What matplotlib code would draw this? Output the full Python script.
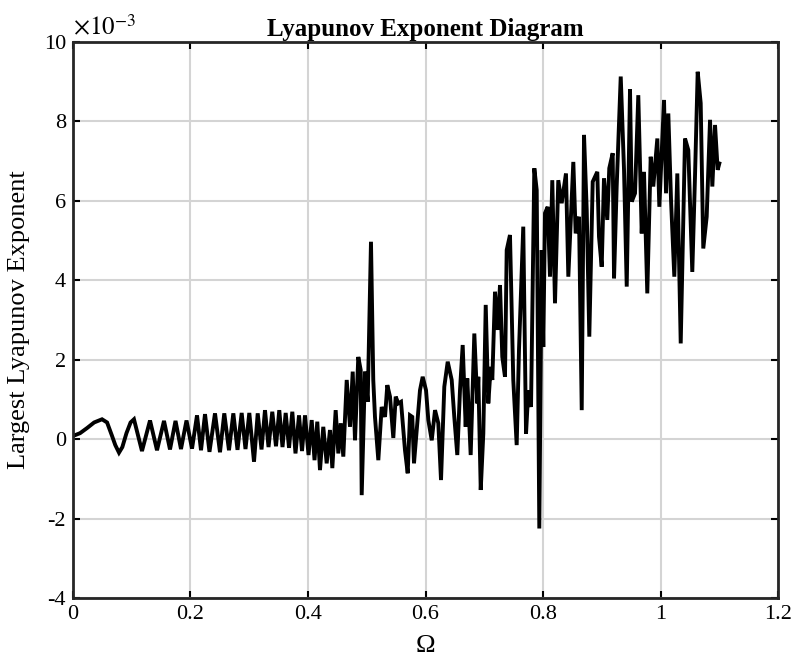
import matplotlib
matplotlib.use("Agg")
import matplotlib.pyplot as plt

# Omega values and largest Lyapunov exponent (in units of 1e-3)
omega = [
    0.0000, 0.0120, 0.0240, 0.0360, 0.0494, 0.0580, 0.0660, 0.0720, 0.0783, 0.0840,
    0.0910, 0.0980, 0.1038, 0.1106, 0.1174, 0.1311,
    0.1430, 0.1549, 0.1651, 0.1745, 0.1838, 0.1932, 0.2026, 0.2111, 0.2179, 0.2247,
    0.2323, 0.2417, 0.2502, 0.2575, 0.2655, 0.2729, 0.2800, 0.2871, 0.2936, 0.3001,
    0.3081, 0.3144, 0.3209, 0.3268, 0.3328, 0.3392, 0.3455, 0.3511, 0.3566, 0.3620,
    0.3677, 0.3733, 0.3787, 0.3847, 0.3898, 0.3949, 0.4009, 0.4063, 0.4111, 0.4158,
    0.4204, 0.4260, 0.4318, 0.4374, 0.4414, 0.4471, 0.4516, 0.4557, 0.4601, 0.4659,
    0.4715, 0.4761, 0.4800, 0.4856, 0.4897, 0.4914, 0.4970, 0.5016, 0.5072, 0.5111,
    0.5140, 0.5197, 0.5254, 0.5311, 0.5350, 0.5396, 0.5452, 0.5493, 0.5537, 0.5583,
    0.5651, 0.5697, 0.5736, 0.5775, 0.5804, 0.5850, 0.5906, 0.5952, 0.6009, 0.6048,
    0.6106, 0.6162, 0.6218, 0.6264, 0.6320, 0.6378, 0.6446, 0.6490, 0.6541, 0.6587,
    0.6633, 0.6684, 0.6711, 0.6769, 0.6797, 0.6831, 0.6882, 0.6899, 0.6940, 0.6984,
    0.7025, 0.7069, 0.7110, 0.7137, 0.7183, 0.7229, 0.7268, 0.7307, 0.7353, 0.7382,
    0.7438, 0.7494, 0.7552, 0.7591, 0.7664, 0.7711, 0.7750, 0.7796, 0.7852, 0.7893,
    0.7937, 0.7978, 0.8005, 0.8034, 0.8080, 0.8119, 0.8158, 0.8204, 0.8260, 0.8318,
    0.8391, 0.8431, 0.8516, 0.8556, 0.8613, 0.8659, 0.8698, 0.8744, 0.8788, 0.8846,
    0.8924, 0.8953, 0.8999, 0.9038, 0.9094, 0.9128, 0.9186, 0.9209, 0.9254, 0.9323,
    0.9379, 0.9425, 0.9481, 0.9510, 0.9566, 0.9622, 0.9680, 0.9719, 0.9775, 0.9833,
    0.9877, 0.9946, 0.9980, 1.0060, 1.0094, 1.0133, 1.0179, 1.0235, 1.0286, 1.0344,
    1.0417, 1.0473, 1.0541, 1.0587, 1.0633, 1.0684, 1.0728, 1.0786, 1.0843, 1.0882,
    1.0928, 1.0973, 1.1001,
]
lyap = [
    0.08, 0.15, 0.28, 0.42, 0.50, 0.42, 0.10, -0.15, -0.34, -0.20,
    0.15, 0.42, 0.50, 0.10, -0.30, 0.47,
    -0.28, 0.46, -0.26, 0.46, -0.25, 0.47, -0.24, 0.60, -0.28, 0.63,
    -0.32, 0.65, -0.33, 0.65, -0.28, 0.65, -0.27, 0.66, -0.25, 0.66,
    -0.57, 0.65, -0.26, 0.73, -0.20, 0.69, -0.18, 0.73, -0.20, 0.66,
    -0.22, 0.69, -0.36, 0.60, -0.30, 0.60, -0.40, 0.48, -0.53, 0.44,
    -0.78, 0.31, -0.61, 0.23, -0.73, 0.73, -0.36, 0.40, -0.44, 1.49,
    0.31, 1.70, -0.03, 2.07, 1.74, -1.41, 1.70, 0.94, 4.97, 1.49,
    0.56, -0.53, 0.81, 0.56, 1.36, 1.07, 0.03, 1.07, 0.90, 0.94,
    -0.28, -0.86, 0.60, 0.56, -0.61, 0.23, 1.23, 1.57, 1.23, 0.48,
    -0.03, 0.73, 0.40, -1.03, 1.32, 1.95, 1.49, 0.56, -0.40, 1.23,
    2.37, 0.31, 1.53, -0.40, 0.98, 2.66, 0.90, 1.57, -1.28, 0.14,
    3.38, 0.90, 1.82, 1.49, 3.71, 2.75, 3.88, 2.07, 1.57, 4.76,
    5.14, 1.49, -0.15, 2.24, 5.35, 0.14, 1.23, 0.81, 6.82, 6.27,
    -2.25, 4.76, 2.32, 5.69, 5.85, 4.09, 6.52, 3.42, 6.52, 5.94,
    6.69, 4.09, 6.98, 5.18, 5.60, 0.73, 7.66, 5.77, 2.58, 6.48,
    6.73, 5.10, 4.34, 6.57, 5.52, 6.82, 7.20, 4.05, 6.36, 9.13,
    6.78, 3.84, 8.81, 5.98, 6.19, 8.66, 5.18, 6.73, 3.67, 7.11,
    6.36, 7.57, 5.85, 8.54, 6.19, 8.20, 6.02, 4.09, 6.69, 2.41,
    7.57, 7.28, 4.21, 6.61, 9.25, 8.46, 4.80, 5.60, 8.04, 6.36,
    7.91, 6.78, 6.94,
]

x_ticks = [0, 0.2, 0.4, 0.6, 0.8, 1, 1.2]
x_tick_labels = ["0", "0.2", "0.4", "0.6", "0.8", "1", "1.2"]
y_ticks = [-4, -2, 0, 2, 4, 6, 8, 10]


def main():
    plt.rcParams["font.family"] = ["Liberation Serif", "DejaVu Serif"]
    plt.rcParams["mathtext.fontset"] = "stix"
    plt.rcParams["axes.unicode_minus"] = False

    fig = plt.figure(figsize=(7.96, 6.61), dpi=100)
    ax = fig.add_axes([0.0917, 0.0953, 0.8857, 0.8412])

    ax.plot(omega, lyap, color="black", linewidth=2.8, solid_joinstyle="miter")

    ax.set_xlim(0, 1.2)
    ax.set_ylim(-4, 10)
    ax.set_xticks(x_ticks)
    ax.set_xticklabels(x_tick_labels)
    ax.set_yticks(y_ticks)
    ax.tick_params(direction="in", top=True, right=True, length=5, width=1.5,
                   labelsize=16, colors="black", pad=5)
    ax.grid(True, color="#d4d4d4", linewidth=1.5)
    ax.set_axisbelow(True)
    for s in ax.spines.values():
        s.set_linewidth(2)
        s.set_color("#262626")

    ax.set_title("Lyapunov Exponent Diagram", fontsize=18, fontweight="bold", pad=4)
    ax.set_ylabel("Largest Lyapunov Exponent", fontsize=19, labelpad=10)
    ax.set_xlabel("\u03a9", fontsize=19, labelpad=8)
    ax.text(0.0, 1.003, r"$\times10^{-3}$", transform=ax.transAxes, fontsize=18,
            ha="left", va="bottom")

    fig.savefig("out.png", dpi=100)


if __name__ == "__main__":
    main()
